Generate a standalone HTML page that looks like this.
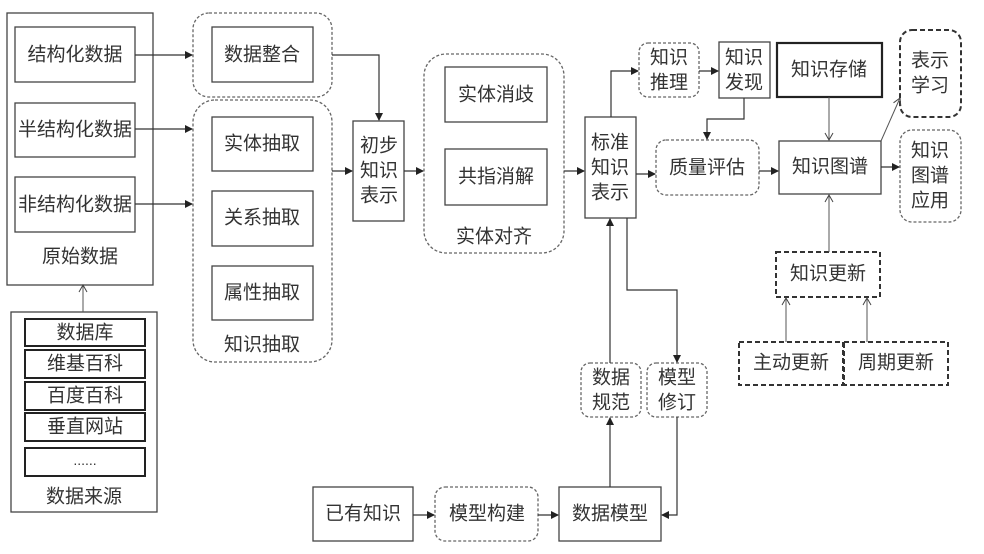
<!DOCTYPE html>
<html><head><meta charset="utf-8"><style>
html,body{margin:0;padding:0;background:#fff;}
svg{display:block;}
text{font-family:"Liberation Sans","Noto Sans CJK SC",sans-serif;fill:#333;text-anchor:middle;dominant-baseline:central;}
</style></head><body>
<svg width="984" height="554" viewBox="0 0 984 554" xmlns="http://www.w3.org/2000/svg">
<defs>
<marker id="a" markerWidth="8" markerHeight="8" refX="7" refY="4" orient="auto" markerUnits="userSpaceOnUse">
<path d="M0,0 L8,4 L0,8 z" fill="#222"/></marker>
<marker id="o" markerWidth="10" markerHeight="10" refX="8" refY="5" orient="auto" markerUnits="userSpaceOnUse">
<path d="M1,1 L8,5 L1,9" fill="none" stroke="#444" stroke-width="1"/></marker>
</defs>
<g fill="none" stroke="#444" stroke-width="1.3">
<!-- raw data -->
<rect x="7" y="13" width="146" height="272"/>
<rect x="15" y="27" width="120" height="55"/>
<rect x="15" y="103" width="120" height="54"/>
<rect x="15" y="177" width="120" height="55"/>
<!-- source -->
<rect x="11" y="312" width="146" height="200"/>
<rect x="25" y="319" width="120" height="27" stroke-width="2" stroke="#222"/>
<rect x="25" y="350" width="120" height="28" stroke-width="2" stroke="#222"/>
<rect x="25" y="382" width="120" height="28" stroke-width="2" stroke="#222"/>
<rect x="25" y="413" width="120" height="28" stroke-width="2" stroke="#222"/>
<rect x="25" y="448" width="120" height="28" stroke-width="2" stroke="#222"/>
<!-- groups dashed -->
<g stroke-dasharray="3,2" stroke="#666">
<rect x="193" y="13" width="139" height="84" rx="16"/>
<rect x="193" y="100" width="139" height="262" rx="22"/>
<rect x="424" y="54" width="140" height="199" rx="22"/>
<rect x="639" y="43" width="60" height="54" rx="9"/>
<rect x="656" y="140" width="103" height="55" rx="10"/>
<rect x="900" y="130" width="61" height="92" rx="12"/>
<rect x="581" y="363" width="60" height="54" rx="9"/>
<rect x="647" y="363" width="60" height="54" rx="9"/>
<rect x="435" y="487" width="103" height="54" rx="10"/>
</g>
<g stroke-dasharray="5,3" stroke="#333" stroke-width="2">
<rect x="900" y="30" width="61" height="87" rx="12"/>
<rect x="776" y="252" width="104" height="45"/>
<rect x="739" y="342" width="104" height="43"/>
<rect x="844" y="342" width="104" height="43"/>
</g>
<rect x="212" y="27" width="101" height="55"/>
<rect x="212" y="117" width="101" height="54"/>
<rect x="212" y="191" width="101" height="55"/>
<rect x="212" y="266" width="101" height="54"/>
<rect x="353" y="121" width="51" height="100"/>
<rect x="445" y="67" width="102" height="55"/>
<rect x="445" y="149" width="102" height="56"/>
<rect x="585" y="117" width="51" height="101"/>
<rect x="719" y="42" width="51" height="56"/>
<rect x="777" y="43" width="105" height="54" stroke-width="2.2" stroke="#222"/>
<rect x="779" y="141" width="102" height="53"/>
<rect x="313" y="487" width="100" height="54"/>
<rect x="559" y="487" width="102" height="54"/>
</g>
<!-- connectors -->
<g fill="none" stroke="#333" stroke-width="1.2" marker-end="url(#a)">
<path d="M135,55 H192"/>
<path d="M135,129 H192"/>
<path d="M135,204 H192"/>
<path d="M332,55 H379 V120"/>
<path d="M332,171 H352"/>
<path d="M404,171 H423"/>
<path d="M564,171 H584"/>
<path d="M611,117 V71 H638"/>
<path d="M699,71 H718"/>
<path d="M744,98 V119 H707 V139"/>
<path d="M636,174 H655"/>
<path d="M759,171 H778"/>
<path d="M881,167 H899"/>
<path d="M627,218 V290 H677 V362"/>
<path d="M677,417 V515 H662"/>
<path d="M610,487 V418"/>
<path d="M610,363 V219"/>
<path d="M413,515 H434"/>
<path d="M538,515 H558"/>
</g>
<g fill="none" stroke="#555" stroke-width="1" marker-end="url(#o)">
<path d="M83,312 V285"/>
<path d="M829,97 V140"/>
<path d="M881,141 L900,98"/>
<path d="M829,252 V195"/>
<path d="M786,342 V298"/>
<path d="M867,342 V298"/>
</g>
<!-- labels -->
<g font-size="19">
<text x="75" y="55">结构化数据</text>
<text x="75" y="130">半结构化数据</text>
<text x="75" y="205">非结构化数据</text>
<text x="80" y="257">原始数据</text>
<text x="85" y="333">数据库</text>
<text x="85" y="364">维基百科</text>
<text x="85" y="396">百度百科</text>
<text x="85" y="427">垂直网站</text>
<text x="85" y="460" font-size="14">......</text>
<text x="84" y="497">数据来源</text>
<text x="262" y="55">数据整合</text>
<text x="262" y="144">实体抽取</text>
<text x="262" y="218">关系抽取</text>
<text x="262" y="293">属性抽取</text>
<text x="262" y="345">知识抽取</text>
<text x="379" y="146">初步</text>
<text x="379" y="171">知识</text>
<text x="379" y="196">表示</text>
<text x="496" y="95">实体消歧</text>
<text x="496" y="177">共指消解</text>
<text x="494" y="237">实体对齐</text>
<text x="610" y="143">标准</text>
<text x="610" y="168">知识</text>
<text x="610" y="193">表示</text>
<text x="669" y="58">知识</text>
<text x="669" y="83">推理</text>
<text x="744" y="58">知识</text>
<text x="744" y="83">发现</text>
<text x="829" y="70">知识存储</text>
<text x="707" y="168">质量评估</text>
<text x="830" y="167">知识图谱</text>
<text x="930" y="61">表示</text>
<text x="930" y="86">学习</text>
<text x="930" y="151">知识</text>
<text x="930" y="176">图谱</text>
<text x="930" y="201">应用</text>
<text x="828" y="274">知识更新</text>
<text x="791" y="363">主动更新</text>
<text x="896" y="363">周期更新</text>
<text x="611" y="378">数据</text>
<text x="611" y="403">规范</text>
<text x="677" y="378">模型</text>
<text x="677" y="403">修订</text>
<text x="363" y="514">已有知识</text>
<text x="487" y="514">模型构建</text>
<text x="610" y="514">数据模型</text>
</g>
</svg>
</body></html>
